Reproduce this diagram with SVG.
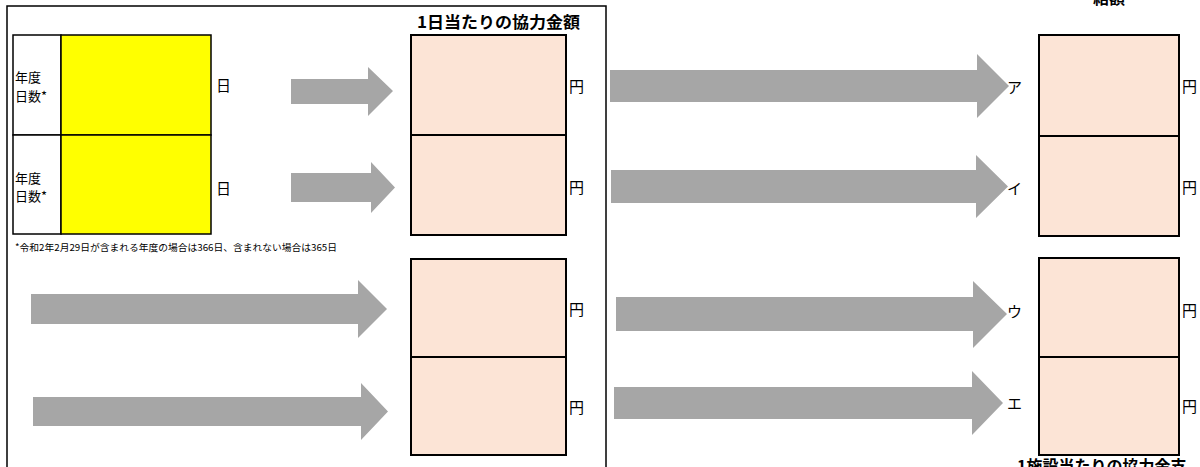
<svg xmlns="http://www.w3.org/2000/svg" width="1200" height="467" viewBox="0 0 1200 467">
<style>
text{font-family:"Noto Sans CJK JP","Noto Sans",sans-serif;fill:#000}
.t{font-size:13px}
.k{font-size:15px}
.u{font-size:15px}
.h{font-size:16px;font-weight:bold}
.fn{font-size:9.5px}
.pk{fill:#FCE4D6;stroke:#000;stroke-width:2}
.yl{fill:#FFFF00;stroke:#000;stroke-width:1.5}
.wt{fill:#fff;stroke:#000;stroke-width:1.5}
.ar{fill:#A6A6A6}
</style>
<rect width="1200" height="467" fill="#fff"/>
<g id="frame"><rect x="7" y="6" width="599" height="480" fill="none" stroke="#000" stroke-width="1.5"/></g>
<g id="titles">
<text class="h" x="417" y="28" textLength="163" lengthAdjust="spacingAndGlyphs">1日当たりの協力金額</text>
<text class="h" x="1093" y="4">結額</text>
<text class="h" x="1017" y="472">1施設当たりの協力金支</text>
</g>
<g id="days-table">
<rect class="wt" x="13" y="35" width="48" height="100"/>
<rect class="wt" x="13" y="135" width="48" height="99"/>
<rect class="yl" x="61" y="35" width="150" height="100"/>
<rect class="yl" x="61" y="135" width="150" height="99"/>
<text class="t" x="15" y="82">年度</text>
<text class="t" x="15" y="101">日数*</text>
<text class="t" x="15" y="183">年度</text>
<text class="t" x="15" y="201">日数*</text>
<text class="u" x="216" y="91">日</text>
<text class="u" x="216" y="194">日</text>
<text class="fn" x="15" y="251" textLength="322" lengthAdjust="spacingAndGlyphs">*令和2年2月29日が含まれる年度の場合は366日、含まれない場合は365日</text>
</g>
<g id="daily-amount">
<rect class="pk" x="411" y="35" width="155" height="100"/>
<rect class="pk" x="411" y="135" width="155" height="100"/>
<rect class="pk" x="411" y="259" width="155" height="98"/>
<rect class="pk" x="411" y="357" width="155" height="98"/>
<text class="u" x="569" y="92">円</text>
<text class="u" x="569" y="193">円</text>
<text class="u" x="569" y="315">円</text>
<text class="u" x="569" y="413">円</text>
</g>
<g id="facility-amount">
<rect class="pk" x="1039" y="35" width="140" height="101"/>
<rect class="pk" x="1039" y="136" width="140" height="100"/>
<rect class="pk" x="1039" y="258" width="140" height="99"/>
<rect class="pk" x="1039" y="357" width="140" height="98"/>
<text class="u" x="1182" y="92">円</text>
<text class="u" x="1182" y="193">円</text>
<text class="u" x="1182" y="316">円</text>
<text class="u" x="1182" y="412">円</text>
<text class="k" x="1007" y="93">ア</text>
<text class="k" x="1007" y="194">イ</text>
<text class="k" x="1007" y="317">ウ</text>
<text class="k" x="1007" y="409">エ</text>
</g>
<g id="connectors">
<polygon class="ar" points="291,79 368,79 368,67 393,91 368,116 368,104 291,104"/>
<polygon class="ar" points="291,173 371,173 371,162 395,187.5 371,213 371,202 291,202"/>
<polygon class="ar" points="31,294 358,294 358,280 387,309 358,338 358,324 31,324"/>
<polygon class="ar" points="33,397 361,397 361,383 388,411.5 361,440 361,426 33,426"/>
<polygon class="ar" points="610,70 977,70 977,54 1009,86 977,118 977,102 610,102"/>
<polygon class="ar" points="611,170 976,170 976,155 1008,186.5 976,218 976,203 611,203"/>
<polygon class="ar" points="616,297 973,297 973,281 1007,314 973,348 973,331 616,331"/>
<polygon class="ar" points="614,387 972,387 972,371 1003,403 972,435 972,419 614,419"/>
</g>
</svg>
